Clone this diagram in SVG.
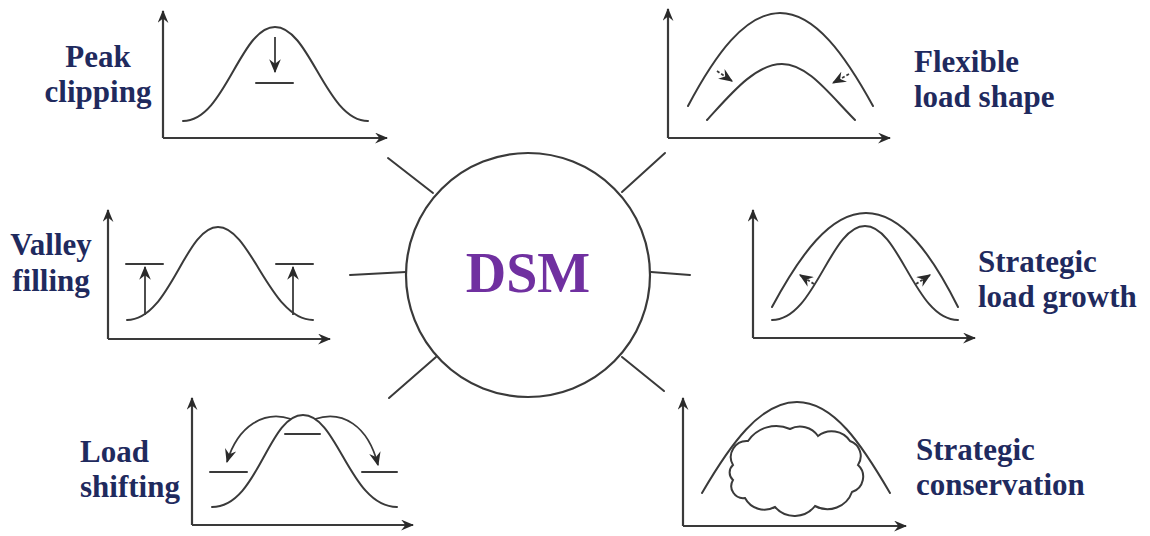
<svg xmlns="http://www.w3.org/2000/svg" width="1150" height="536" viewBox="0 0 1150 536">
  <style>
    .ln { fill: none; stroke: #3a3a3a; stroke-width: 2; stroke-linecap: round; }
    .ax { fill: none; stroke: #3a3a3a; stroke-width: 2.2; marker-end: url(#head); }
    .sm { fill: none; stroke: #3a3a3a; stroke-width: 1.8; marker-end: url(#small); }
    .lbl { font-family: "Liberation Serif", "Times New Roman", serif; font-weight: bold; font-size: 31px; fill: #1f2a5e; }
    .dsm { font-family: "Liberation Serif", "Times New Roman", serif; font-weight: bold; font-size: 56px; fill: #7030a0; }
  </style>
  <defs>
    <marker id="head" viewBox="0 0 12 10" refX="11" refY="5" markerWidth="13" markerHeight="11" markerUnits="userSpaceOnUse" orient="auto">
      <path d="M0,0 L12,5 L0,10 L4,5 Z" fill="#2a2a2a"/>
    </marker>
    <marker id="small" viewBox="0 0 12 10" refX="11" refY="5" markerWidth="14" markerHeight="12" markerUnits="userSpaceOnUse" orient="auto">
      <path d="M0,0 L12,5 L0,10 L4,5 Z" fill="#2a2a2a"/>
    </marker>
  </defs>
  <rect width="1150" height="536" fill="#ffffff"/>

  <!-- spokes from the hub -->
  <g id="connectors">
    <line class="ln" x1="388" y1="158" x2="433" y2="193"/>
    <line class="ln" x1="665" y1="153" x2="622" y2="192"/>
    <line class="ln" x1="350" y1="275" x2="406" y2="272"/>
    <line class="ln" x1="651" y1="272" x2="690" y2="275"/>
    <line class="ln" x1="436" y1="357" x2="389" y2="398"/>
    <line class="ln" x1="622" y1="357" x2="664" y2="391"/>
  </g>

  <!-- hub -->
  <g id="dsm">
    <circle cx="528" cy="275" r="122" fill="#ffffff" stroke="#3a3a3a" stroke-width="2.2"/>
    <text class="dsm" x="528" y="292" text-anchor="middle">DSM</text>
  </g>

  <!-- peak clipping -->
  <g id="peak-clipping">
    <path class="ax" d="M163 138 V11"/>
    <path class="ax" d="M163 138 H387"/>
    <path class="ln" d="M183 121 C225 121 240 27 275 27 C310 27 326 121 368 121"/>
    <path class="sm" d="M275 37 V72"/>
    <line class="ln" x1="256" y1="83" x2="293" y2="83"/>
    <text class="lbl" x="98" y="67" text-anchor="middle">Peak</text>
    <text class="lbl" x="98" y="102" text-anchor="middle">clipping</text>
  </g>

  <!-- flexible load shape -->
  <g id="flexible-load-shape">
    <path class="ax" d="M668 138 V9"/>
    <path class="ax" d="M668 138 H890"/>
    <path class="ln" d="M688 106 C715 55 745 13 780 13 C815 13 845 55 873 106"/>
    <path class="ln" d="M707 120 C730 95 755 64 782 64 C808 64 830 95 855 120"/>
    <path class="sm" d="M717 71 L732 81" stroke-dasharray="3 2"/>
    <path class="sm" d="M849 74 L833 83" stroke-dasharray="3 2"/>
    <text class="lbl" x="914" y="72">Flexible</text>
    <text class="lbl" x="914" y="107">load shape</text>
  </g>

  <!-- valley filling -->
  <g id="valley-filling">
    <path class="ax" d="M108 339 V210"/>
    <path class="ax" d="M108 339 H330"/>
    <path class="ln" d="M127 320 C170 320 185 227 218 227 C251 227 270 320 313 320"/>
    <line class="ln" x1="126" y1="264" x2="163" y2="264"/>
    <line class="ln" x1="276" y1="264" x2="313" y2="264"/>
    <path class="sm" d="M145 315 V267"/>
    <path class="sm" d="M293 315 V267"/>
    <text class="lbl" x="51" y="255" text-anchor="middle">Valley</text>
    <text class="lbl" x="51" y="291" text-anchor="middle">filling</text>
  </g>

  <!-- strategic load growth -->
  <g id="strategic-load-growth">
    <path class="ax" d="M753 338 V210"/>
    <path class="ax" d="M753 338 H975"/>
    <path class="ln" d="M772 307 C800 255 830 213 866 213 C902 213 932 255 958 307"/>
    <path class="ln" d="M772 320 C815 320 830 226 865 226 C900 226 915 320 958 320"/>
    <path class="sm" d="M814 284 L800 275" stroke-dasharray="3 2"/>
    <path class="sm" d="M916 284 L930 275" stroke-dasharray="3 2"/>
    <text class="lbl" x="978" y="272">Strategic</text>
    <text class="lbl" x="978" y="307">load growth</text>
  </g>

  <!-- load shifting -->
  <g id="load-shifting">
    <path class="ax" d="M192 525 V398"/>
    <path class="ax" d="M192 525 H413"/>
    <path class="ln" d="M212 507 C258 507 268 415 303 415 C338 415 350 507 397 507"/>
    <line class="ln" x1="285" y1="434" x2="320" y2="434"/>
    <line class="ln" x1="210" y1="472" x2="247" y2="472"/>
    <line class="ln" x1="362" y1="472" x2="397" y2="472"/>
    <path class="sm" d="M291 419 C265 410 238 425 227 462"/>
    <path class="sm" d="M315 419 C342 410 368 425 378 465"/>
    <text class="lbl" x="80" y="462">Load</text>
    <text class="lbl" x="80" y="497">shifting</text>
  </g>

  <!-- strategic conservation -->
  <g id="strategic-conservation">
    <path class="ax" d="M683 526 V398"/>
    <path class="ax" d="M683 526 H906"/>
    <path class="ln" d="M702 493 C730 445 760 402 797 402 C834 402 862 445 890 493"/>
    <path class="ln" fill="#ffffff" d="M733 465 A16 16 0 0 1 748 441 A34 34 0 0 1 790 429 A22 22 0 0 1 818 436 A22 22 0 0 1 850 441 A16 16 0 0 1 858 465 A16 16 0 0 1 852 492 A26 26 0 0 1 815 506 A26 26 0 0 1 775 507 A22 22 0 0 1 745 498 A12 12 0 0 1 733 480 A10 10 0 0 1 733 465 Z"/>
    <text class="lbl" x="916" y="460">Strategic</text>
    <text class="lbl" x="916" y="495">conservation</text>
  </g>
</svg>
